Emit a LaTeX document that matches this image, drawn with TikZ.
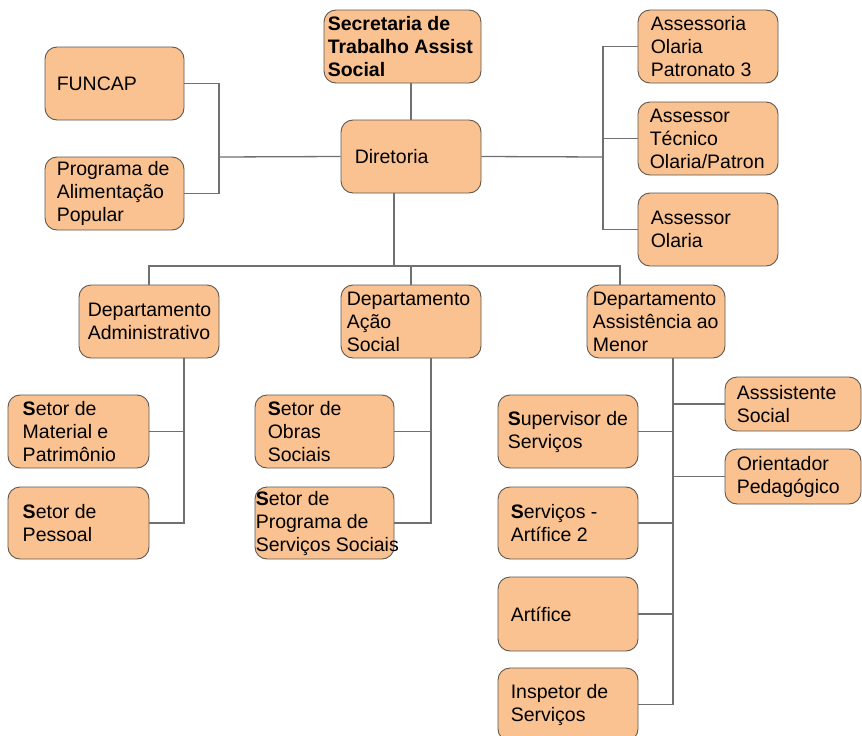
\documentclass[tikz,border=0pt]{standalone}
\usepackage{fontspec}
\setmainfont{Liberation Sans}
\definecolor{boxfill}{RGB}{250,194,144}
\definecolor{boxline}{RGB}{95,88,80}
\definecolor{conn}{RGB}{112,112,112}
\tikzset{
  box/.style={draw=boxline, fill=boxfill, rounded corners=12pt, line width=0.9pt, inner sep=0pt},
  txt/.style={align=left, inner sep=0pt, font=\fontsize{19.5}{23}\selectfont},
  link/.style={draw=conn, line width=1.3pt}
}
\newcommand\ob[7]{%
  \node[box, minimum width={(#4-#2)*1pt}, minimum height={(#5-#3)*1pt}] (#1) at ({(#2+#4)/2},{(#3+#5)/2}) {};
  \node[txt, anchor=west] (#1t) at ([xshift=#6pt]#1.west) {#7};}
\begin{document}
\begin{tikzpicture}[x=1pt,y=-1pt]
\useasboundingbox[fill=white] (0,0) rectangle (862,736);
% connectors first
\coordinate (lbus) at (219,157);
\coordinate (rbus) at (603,157);
\coordinate (dbus) at (394,266);
\coordinate (b3) at (620,266);
\coordinate (va) at (184,358);
\coordinate (vb) at (431,358);
\coordinate (vc) at (673,358);
% boxes
\ob{sec}{324}{10}{481}{83}{4}{\textbf{Secretaria de}\\\textbf{Trabalho Assist}\\\textbf{Social}}
\ob{fun}{45}{47}{184}{120}{12}{FUNCAP}
\ob{pap}{45}{157}{184}{230}{12}{Programa de\\Alimentação\\Popular}
\ob{dir}{341}{120}{481}{193}{14}{Diretoria}
\ob{aop}{638}{10}{778}{83}{13}{Assessoria\\Olaria\\Patronato 3}
\ob{atec}{638}{102}{778}{175}{12}{Assessor\\Técnico\\Olaria/Patron}
\ob{aol}{638}{193}{778}{266}{13}{Assessor\\Olaria}
\ob{dadm}{79}{285}{219}{358}{9}{Departamento\\Administrativo}
\ob{dac}{341}{285}{481}{358}{6}{Departamento\\Ação\\Social}
\ob{dam}{587}{285}{725}{358}{6}{Departamento\\Assistência ao\\Menor}
\ob{smp}{8}{395}{149}{468}{15}{\textbf{S}etor de\\Material e\\Patrimônio}
\ob{spe}{8}{487}{149}{559}{15}{\textbf{S}etor de\\Pessoal}
\ob{sos}{255}{395}{394}{468}{13}{\textbf{S}etor de\\Obras\\Sociais}
\ob{sps}{255}{487}{394}{559}{1}{\textbf{S}etor de\\Programa de\\Serviços Sociais}
\ob{sup}{498}{395}{638}{468}{10}{\textbf{S}upervisor de\\Serviços}
\ob{sa2}{498}{487}{638}{559}{13}{\textbf{S}erviços -\\Artífice 2}
\ob{art}{498}{577}{638}{651}{13}{Artífice}
\ob{ins}{498}{668}{638}{741}{13}{Inspetor de\\Serviços}
\ob{ass}{725}{377}{861}{431}{12}{Asssistente\\Social}
\ob{ori}{725}{449}{861}{504}{12}{Orientador\\Pedagógico}
% links
\begin{scope}[on background layer/.style={}]
\end{scope}
\draw[link] (dir.north) -- (dir.north |- sec.south);
\draw[link] (fun.east) -| (lbus) |- (pap.east);
\draw[link] (dir.west) -- (lbus);
\draw[link] (dir.east) -- (rbus);
\draw[link] (aop.west) -| (rbus);
\draw[link] (aol.west) -| (rbus);
\draw[link] (atec.west) -- (atec.west -| rbus);
\draw[link] (dbus |- dir.south) -- (dbus);
\draw[link] (dadm.north) |- (b3) -- (b3 |- dam.north);
\draw[link] (dac.north) -- (dac.north |- b3);
\draw[link] (va) |- (spe.east);
\draw[link] (smp.east) -- (smp.east -| va);
\draw[link] (vb) |- (sps.east);
\draw[link] (sos.east) -- (sos.east -| vb);
\draw[link] (vc) |- (ins.east);
\draw[link] (sup.east) -- (sup.east -| vc);
\draw[link] (sa2.east) -- (sa2.east -| vc);
\draw[link] (art.east) -- (art.east -| vc);
\draw[link] (ass.west) -- (ass.west -| vc);
\draw[link] (ori.west) -- (ori.west -| vc);
\end{tikzpicture}
\end{document}
